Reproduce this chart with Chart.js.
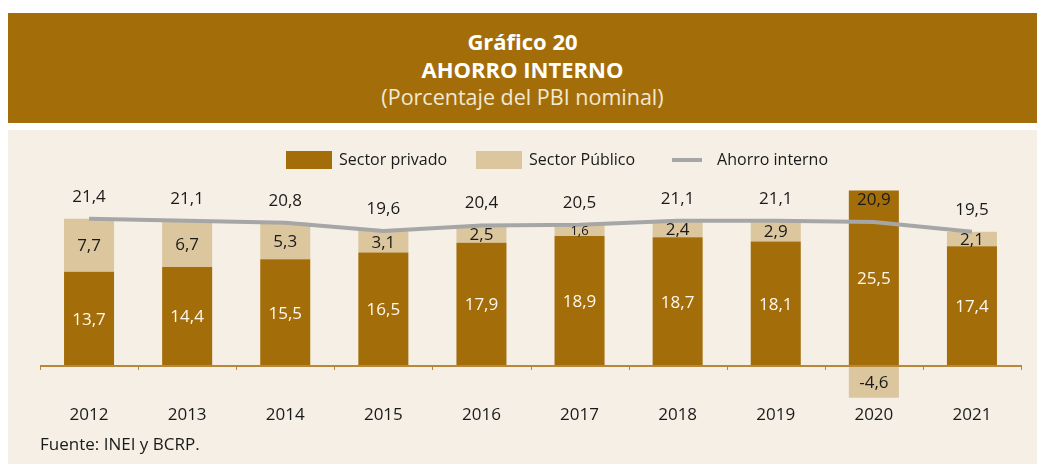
<!DOCTYPE html>
<html lang="es">
<head>
<meta charset="utf-8">
<title>Ahorro interno</title>
<script src="https://cdn.jsdelivr.net/npm/chart.js@4.4.1/dist/chart.umd.min.js"></script>
<style>
  html, body { margin: 0; padding: 0; width: 1045px; height: 464px; overflow: hidden; background: #fff; font-family: 'Open Sans', sans-serif; }
  .header { position: absolute; left: 8px; top: 13px; width: 1029px; height: 110px; background: #A36E0A; text-align: center; }
  .header div { line-height: 28px; }
  .header .t1 { margin-top: 14px; color: #fff; font-weight: bold; font-size: 22px; }
  .header .t2 { color: #fff; font-weight: bold; font-size: 22px; }
  .header .t3 { color: #F3E8D2; font-size: 21.5px; }
  .panel { position: absolute; left: 8px; top: 130px; width: 1029px; height: 334px; background: #F5EFE6; }
  .wrap { position: absolute; left: 0; top: 0; width: 1100px; height: 464px; }
  .source { position: absolute; left: 40px; top: 432px; font-size: 17px; color: #1A1A1A; }
</style>
</head>
<body>
<div class="header">
  <div class="t1">Gráfico 20</div>
  <div class="t2">AHORRO INTERNO</div>
  <div class="t3">(Porcentaje del PBI nominal)</div>
</div>
<div class="panel"></div>
<div class="wrap"><canvas id="chart"></canvas></div>
<div class="source">Fuente: INEI y BCRP.</div>

<script>
// Data (% del PBI nominal)
const years = ['2012', '2013', '2014', '2015', '2016', '2017', '2018', '2019', '2020', '2021'];
const sectorPrivado = [13.7, 14.4, 15.5, 16.5, 17.9, 18.9, 18.7, 18.1, 25.5, 17.4];
const sectorPublico = [7.7, 6.7, 5.3, 3.1, 2.5, 1.6, 2.4, 2.9, -4.6, 2.1];
const ahorroInterno = [21.4, 21.1, 20.8, 19.6, 20.4, 20.5, 21.1, 21.1, 20.9, 19.5];

const BROWN = '#A36E0A';
const SAND = '#DCC69E';
const GREY = '#A6A6A6';
const AXIS = '#B8883A';
const TEXT = '#1A1A1A';

const fmt = v => v.toFixed(1).replace('.', ',');

// small canvases used as legend markers
function swatch(w, h, color) {
    const c = document.createElement('canvas');
    c.width = w;
    c.height = h;
    const g = c.getContext('2d');
    g.fillStyle = color;
    g.fillRect(0, 0, w, h);
    return c;
}
const markers = [swatch(46, 18, BROWN), swatch(46, 18, SAND), swatch(30, 4, GREY)];

// zero line with small ticks between categories
const zeroAxis = {
    id: 'zeroAxis',
    afterDatasetsDraw(chart) {
        const { ctx, chartArea, scales: { x, y } } = chart;
        const y0 = Math.round(y.getPixelForValue(0));
        const half = (x.getPixelForValue(1) - x.getPixelForValue(0)) / 2;
        ctx.save();
        ctx.strokeStyle = AXIS;
        ctx.lineWidth = 2;
        ctx.beginPath();
        ctx.moveTo(chartArea.left, y0);
        ctx.lineTo(chartArea.right + 1, y0);
        ctx.stroke();
        ctx.lineWidth = 1;
        for (let i = 0; i <= years.length; i++) {
            const px = Math.round(x.getPixelForValue(i) - half) + 0.5;
            ctx.beginPath();
            ctx.moveTo(px, y0);
            ctx.lineTo(px, y0 + 4);
            ctx.stroke();
        }
        ctx.restore();
    }
};

// value labels inside segments and totals above the line
const valueLabels = {
    id: 'valueLabels',
    afterDatasetsDraw(chart) {
        const ctx = chart.ctx;
        ctx.save();
        ctx.textAlign = 'center';
        ctx.textBaseline = 'middle';
        [[0, '#FFF8EC'], [1, TEXT]].forEach(([di, color]) => {
            const vals = chart.data.datasets[di].data;
            chart.getDatasetMeta(di).data.forEach((bar, i) => {
                const h = Math.abs(bar.base - bar.y);
                ctx.font = (h < 12 ? '13px' : '17px') + " 'Open Sans', sans-serif";
                ctx.fillStyle = color;
                ctx.fillText(fmt(vals[i]), bar.x, (bar.y + bar.base) / 2 + 1);
            });
        });
        ctx.font = "17px 'Open Sans', sans-serif";
        ctx.fillStyle = TEXT;
        chart.getDatasetMeta(2).data.forEach((pt, i) => {
            ctx.fillText(fmt(ahorroInterno[i]), pt.x, pt.y - 22);
        });
        ctx.restore();
    }
};

new Chart(document.getElementById('chart'), {
    type: 'bar',
    data: {
        labels: years,
        datasets: [
            {
                label: 'Sector privado',
                data: sectorPrivado,
                backgroundColor: BROWN,
                categoryPercentage: 1,
                barPercentage: 0.51,
                order: 1
            },
            {
                label: 'Sector Público',
                data: sectorPublico,
                backgroundColor: SAND,
                categoryPercentage: 1,
                barPercentage: 0.51,
                order: 1
            },
            {
                type: 'line',
                label: 'Ahorro interno',
                data: ahorroInterno,
                borderColor: GREY,
                backgroundColor: GREY,
                borderWidth: 4,
                pointRadius: 0,
                tension: 0,
                stack: 'total',
                order: 0
            }
        ]
    },
    options: {
        responsive: true,
        maintainAspectRatio: false,
        animation: false,
        layout: { padding: { top: 122, left: 40, right: 25, bottom: 35 } },
        scales: {
            x: {
                stacked: true,
                grid: { display: false, drawTicks: false },
                border: { display: false },
                ticks: { color: TEXT, font: { family: "'Open Sans', sans-serif", size: 17 }, padding: 4 }
            },
            y: {
                stacked: true,
                position: 'right',
                min: -5,
                max: 27.3,
                grid: { display: false, drawTicks: false },
                border: { display: false },
                ticks: { display: false },
                afterFit(scale) { scale.width = 54; }
            }
        },
        plugins: {
            tooltip: { enabled: false },
            legend: {
                position: 'top',
                labels: {
                    color: TEXT,
                    font: { family: "'Open Sans', sans-serif", size: 16 },
                    usePointStyle: true,
                    pointStyleWidth: 44,
                    padding: 30,
                    sort: (a, b) => a.datasetIndex - b.datasetIndex,
                    generateLabels(chart) {
                        return Chart.defaults.plugins.legend.labels.generateLabels(chart).map(item => {
                            item.pointStyle = markers[item.datasetIndex];
                            return item;
                        });
                    }
                }
            }
        }
    },
    plugins: [zeroAxis, valueLabels]
});
</script>
</body>
</html>
